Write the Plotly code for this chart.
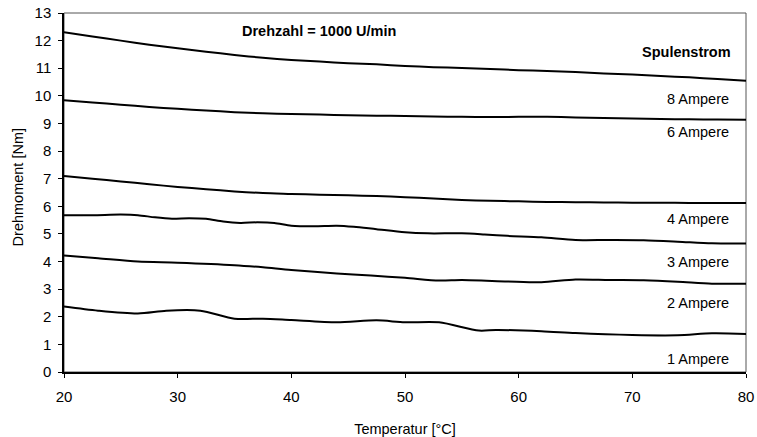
import plotly.graph_objects as go

# Temperatur [°C] sample points and Drehmoment [Nm] per curve (top to bottom)
t_a = [20, 22.5, 25, 27.5, 30, 32.5, 35, 37.5, 40, 42.5, 45, 47.5, 50, 52.5, 55, 57.5, 60, 62.5, 65, 67.5, 70, 72.5, 75, 77.5, 80]
c1 = [12.3, 12.15, 12.0, 11.85, 11.72, 11.6, 11.48, 11.38, 11.3, 11.24, 11.18, 11.14, 11.08, 11.04, 11.01, 10.97, 10.93, 10.9, 10.86, 10.81, 10.77, 10.72, 10.67, 10.61, 10.55]
c2 = [9.84, 9.76, 9.68, 9.6, 9.53, 9.47, 9.41, 9.37, 9.34, 9.32, 9.3, 9.28, 9.27, 9.25, 9.24, 9.23, 9.24, 9.24, 9.22, 9.2, 9.18, 9.16, 9.15, 9.14, 9.13]
c3 = [7.1, 7.0, 6.9, 6.8, 6.7, 6.62, 6.54, 6.48, 6.45, 6.42, 6.4, 6.37, 6.33, 6.28, 6.23, 6.2, 6.18, 6.16, 6.15, 6.14, 6.13, 6.13, 6.12, 6.12, 6.12]

t_4 = [20, 22.5, 25, 26.5, 28, 29.5, 31, 32.5, 34, 35.5, 37, 38.5, 40, 42, 44, 45.5, 47.5, 50, 52, 55, 57, 59, 62, 65, 68, 71, 74, 77, 80]
c4 = [5.68, 5.68, 5.7, 5.68, 5.6, 5.55, 5.57, 5.55, 5.45, 5.4, 5.42, 5.4, 5.3, 5.28, 5.3, 5.26, 5.17, 5.06, 5.02, 5.02, 4.98, 4.93, 4.88, 4.78, 4.78, 4.77, 4.72, 4.66, 4.65]

t_5 = [20, 23, 26.5, 30, 35, 37.5, 40, 44, 47, 50, 53, 55, 59, 62, 65, 68, 71, 74, 77, 80]
c5 = [4.22, 4.12, 4.0, 3.96, 3.87, 3.79, 3.69, 3.57, 3.49, 3.41, 3.31, 3.33, 3.28, 3.25, 3.35, 3.33, 3.32, 3.27, 3.2, 3.2]

t_6 = [20, 23, 26.5, 29, 32, 35, 37.5, 40, 44, 47.5, 50, 53, 56.5, 58, 62, 65, 70, 74, 77, 80]
c6 = [2.37, 2.22, 2.12, 2.22, 2.22, 1.93, 1.93, 1.88, 1.8, 1.87, 1.8, 1.8, 1.5, 1.52, 1.48, 1.41, 1.34, 1.33, 1.4, 1.38]

labels = ["Spulenstrom", "8 Ampere", "6 Ampere", "4 Ampere", "3 Ampere", "2 Ampere", "1 Ampere"]
label_y = [11.6, 9.89, 8.7, 5.54, 4.0, 2.49, 0.46]
label_bold = [True, False, False, False, False, False, False]
x_ticks = [20, 30, 40, 50, 60, 70, 80]
y_ticks = list(range(0, 14))

FONT = "Liberation Sans, Arial, sans-serif"

fig = go.Figure()
for xs, ys in [(t_a, c1), (t_a, c2), (t_a, c3), (t_4, c4), (t_5, c5), (t_6, c6)]:
    fig.add_trace(go.Scatter(x=xs, y=ys, mode="lines",
                             line=dict(color="black", width=2, shape="spline", smoothing=0.8),
                             showlegend=False, hoverinfo="skip"))

for txt, yv, b in zip(labels, label_y, label_bold):
    fig.add_annotation(x=78.85 if b else 78.7, y=yv, xref="x", yref="y",
                       text=f"<b>{txt}</b>" if b else txt,
                       showarrow=False, xanchor="right", yanchor="middle",
                       font=dict(family=FONT, size=14.5, color="black"))

fig.add_annotation(x=35.45, y=12.36, xref="x", yref="y", text="<b>Drehzahl = 1000 U/min</b>",
                   showarrow=False, xanchor="left", yanchor="middle",
                   font=dict(family=FONT, size=14.5, color="black"))

# y-axis title placed as rotated annotation
fig.add_annotation(x=-0.067, y=0.515, xref="paper", yref="paper", text="Drehmoment [Nm]",
                   textangle=-90, showarrow=False, xanchor="center", yanchor="middle",
                   font=dict(family=FONT, size=14.5, color="black"))

fig.add_shape(type="rect", xref="paper", yref="paper", x0=0, y0=0, x1=1, y1=1,
              line=dict(color="#555555", width=1), layer="below")

axis_common = dict(showgrid=False, zeroline=False, automargin=False)
fig.update_layout(
    width=757, height=437,
    margin=dict(l=64, r=10.5, t=13, b=65),
    paper_bgcolor="white", plot_bgcolor="white",
    font=dict(family=FONT, size=15, color="black"),
    xaxis=dict(range=[20, 80], tickvals=x_ticks, ticks="outside", ticklen=4, tickcolor="black",
               showline=True, linecolor="black", linewidth=1.5, ticklabelstandoff=6,
               tickfont=dict(family=FONT, size=15),
               title=dict(text="Temperatur [°C]", font=dict(family=FONT, size=14.5), standoff=21),
               **axis_common),
    yaxis=dict(range=[0, 13], tickvals=y_ticks, ticks="outside", ticklen=4, tickcolor="black",
               showline=True, linecolor="black", linewidth=1.5, ticklabelstandoff=4,
               tickfont=dict(family=FONT, size=15),
               **axis_common),
    xaxis2=dict(range=[20, 80], tickvals=x_ticks, overlaying="x", side="bottom", ticks="inside",
                ticklen=5, tickcolor="black", showticklabels=False, anchor="y", **axis_common),
    yaxis2=dict(range=[0, 13], tickvals=y_ticks, overlaying="y", side="left", ticks="inside",
                ticklen=5, tickcolor="black", showticklabels=False, anchor="x", **axis_common),
)

fig.write_html("out.html")
